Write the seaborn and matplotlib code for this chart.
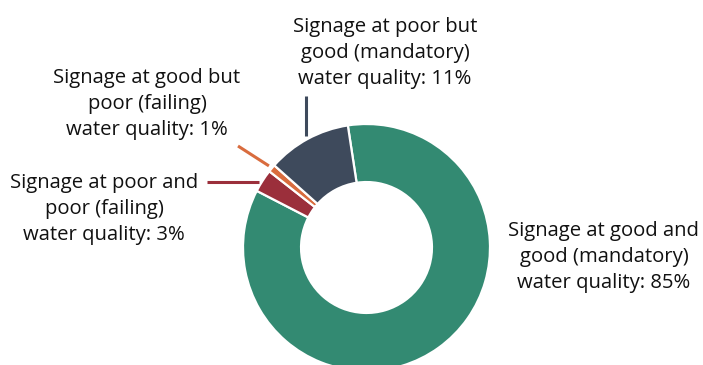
import numpy as np
import matplotlib
matplotlib.use("Agg")
import matplotlib.pyplot as plt
import seaborn as sns

# Signage status vs. water quality classification (share of sites, %)
categories = [
    "Signage at good and\ngood (mandatory)\nwater quality",
    "Signage at poor and\npoor (failing)\nwater quality",
    "Signage at good but\npoor (failing)\nwater quality",
    "Signage at poor but\ngood (mandatory)\nwater quality",
]
shares = [85, 3, 1, 11]
colors = ["#338a72", "#9b2f3b", "#d96c3e", "#3e4a5c"]

sns.set_theme(style="white")
plt.rcParams["font.family"] = ["Open Sans", "DejaVu Sans"]

W, H = 703, 365
fig = plt.figure(figsize=(W / 100, H / 100), dpi=100)
ax = fig.add_axes([0, 0, 1, 1])

cx, cy, R = 366.5, H - 247.5, 123.5
start = 98.7
wedges, _ = ax.pie(
    shares, colors=colors, startangle=start, counterclock=False,
    center=(cx, cy), radius=R, frame=True,
    wedgeprops=dict(width=R * 0.47, edgecolor="white", linewidth=1.6),
)
ax.set_xlim(0, W)
ax.set_ylim(0, H)
ax.set_aspect("equal")
ax.axis("off")

# label text anchor (centre of the text block) and leader-line end
label_pos = [
    (604, H - 257, None),
    (104, H - 209, (207, H - 182)),
    (147, H - 104, (238, H - 146)),
    (385, H - 53, (None, H - 96)),
]

for w, cat, val, col, (tx, ty, tip) in zip(wedges, categories, shares, colors, label_pos):
    ax.text(tx, ty, f"{cat}: {val}%", ha="center", va="center",
            fontsize=14.6, color="#111111", linespacing=1.42)
    if tip is None:
        continue
    mid = np.deg2rad((w.theta1 + w.theta2) / 2)
    r0 = R * 1.03
    x0, y0 = cx + r0 * np.cos(mid), cy + r0 * np.sin(mid)
    x1, y1 = tip
    if x1 is None:
        x1 = x0
    elif abs(y1 - (H - 182)) < 1:
        y0 = y1
    ax.plot([x0, x1], [y0, y1], color=col, lw=2.2, solid_capstyle="butt")

fig.savefig("out.png", dpi=100)
